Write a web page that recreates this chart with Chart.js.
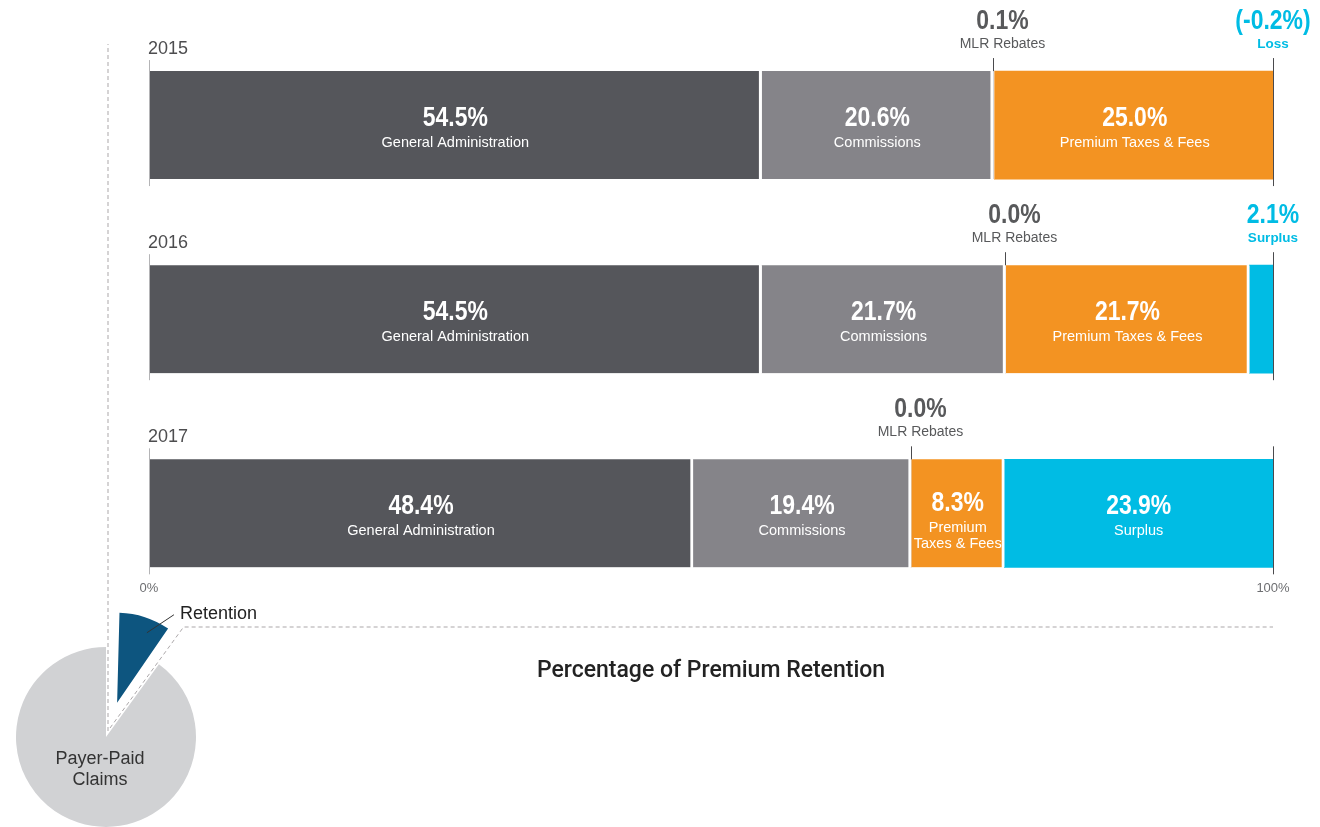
<!DOCTYPE html>
<html>
<head>
<meta charset="utf-8">
<title>Percentage of Premium Retention</title>
<script src="https://cdn.jsdelivr.net/npm/chart.js@4.4.1/dist/chart.umd.min.js"></script>
<style>
  html, body { margin: 0; padding: 0; background: #fff; }
  #wrap { position: relative; width: 1320px; height: 827px; overflow: hidden; }
  #wrap canvas { position: absolute; left: 0; top: 0; }
  #pieChart { pointer-events: none; }
</style>
</head>
<body>
<div id="wrap">
  <canvas id="barChart" width="1320" height="827"></canvas>
  <canvas id="pieChart" width="1320" height="827"></canvas>
</div>
<script>
// retention breakdown by year, % of premium retained
var years = ['2015', '2016', '2017'];
var generalAdmin = [54.5, 54.5, 48.4];
var commissions = [20.6, 21.7, 19.4];
var mlrRebates = [0.1, 0.0, 0.0];
var premiumTaxes = [25.0, 21.7, 8.3];
var netResult = [-0.2, 2.1, 23.9];   // surplus (+) or loss (-)
var axisTicks = [0, 100];

// premium split for the small pie
var pieLabels = ['Retention', 'Payer-Paid Claims'];
var pieValues = [10, 90];

var DARK = '#55565b', MID = '#858489', ORANGE = '#f39322', CYAN = '#00bce4';
var TEXT = '#58595b';
var SANS = "'Liberation Sans', Arial, Helvetica, sans-serif";
var SQUEEZE = 0.82;   // narrows the bold figures

var series = [
  { label: 'General Administration', data: generalAdmin, color: DARK },
  { label: 'Commissions', data: commissions, color: MID },
  { label: 'MLR Rebates', data: mlrRebates, color: '#c9cacc' },
  { label: 'Premium Taxes & Fees', data: premiumTaxes, color: ORANGE },
  { label: 'Surplus', data: netResult.map(function (v) { return v > 0 ? v : 0; }), color: CYAN }
];

function isLastInRow(di, row) {
  for (var k = di + 1; k < series.length; k++) {
    if (series[k].data[row] > 0) return false;
  }
  return true;
}

function wrapWords(ctx, text, maxW) {
  if (ctx.measureText(text).width <= maxW) return [text];
  var words = text.split(' '), lines = [], cur = '';
  words.forEach(function (w) {
    var t = cur ? cur + ' ' + w : w;
    if (cur && ctx.measureText(t).width > maxW) { lines.push(cur); cur = w; }
    else cur = t;
  });
  if (cur) lines.push(cur);
  return lines;
}

function fmt(v) {
  var s = Math.abs(v).toFixed(1) + '%';
  return v < 0 ? '(-' + s + ')' : s;
}

function bigFigure(ctx, text, x, y, color) {
  ctx.save();
  ctx.fillStyle = color;
  ctx.font = 'bold 28px ' + SANS;
  ctx.textAlign = 'center';
  ctx.textBaseline = 'middle';
  ctx.translate(x, y);
  ctx.scale(SQUEEZE, 1);
  ctx.fillText(text, 0, 0);
  ctx.restore();
}

var barDecor = {
  id: 'barDecor',
  afterDatasetsDraw: function (chart) {
    var ctx = chart.ctx, x = chart.scales.x;
    var x0 = x.getPixelForValue(0), x100 = x.getPixelForValue(100);
    ctx.save();
    years.forEach(function (yr, row) {
      var el = chart.getDatasetMeta(0).data[row];
      var top = el.y - el.height / 2, bottom = el.y + el.height / 2;

      ctx.lineWidth = 1;
      ctx.strokeStyle = '#b4b4b6';
      ctx.beginPath(); ctx.moveTo(Math.round(x0) + 0.5, top - 11); ctx.lineTo(Math.round(x0) + 0.5, bottom + 7); ctx.stroke();
      ctx.strokeStyle = '#4a4a4d';
      ctx.beginPath(); ctx.moveTo(Math.round(x100) + 0.5, top - 13); ctx.lineTo(Math.round(x100) + 0.5, bottom + 7); ctx.stroke();

      ctx.fillStyle = '#4d4d4f';
      ctx.font = '18px ' + SANS;
      ctx.textAlign = 'left';
      ctx.textBaseline = 'middle';
      ctx.fillText(yr, x0 - 1, top - 22);

      series.forEach(function (s, di) {
        var v = s.data[row];
        var bar = chart.getDatasetMeta(di).data[row];
        var w = Math.abs(bar.x - bar.base);
        if (v < 5 || w < 30) return;
        var cx = Math.min(bar.base, bar.x) + w / 2;
        ctx.font = '14.5px ' + SANS;
        var lines = wrapWords(ctx, s.label, w - 2);
        var vy = bar.y - 7 - 3 * (lines.length - 1);
        bigFigure(ctx, fmt(v), cx, vy, '#ffffff');
        ctx.fillStyle = '#ffffff';
        ctx.textAlign = 'center';
        ctx.textBaseline = 'middle';
        ctx.font = '14.5px ' + SANS;
        lines.forEach(function (ln, i) { ctx.fillText(ln, cx, vy + 25 + 16 * i); });
      });

      // MLR rebate callout above the bar
      var mlr = chart.getDatasetMeta(2).data[row];
      var mx = Math.round(Math.min(mlr.base, mlr.x)) + 0.5;
      ctx.strokeStyle = '#4a4a4d';
      ctx.beginPath(); ctx.moveTo(mx, top - 13); ctx.lineTo(mx, top); ctx.stroke();
      bigFigure(ctx, fmt(mlrRebates[row]), mx + 9, top - 50, TEXT);
      ctx.fillStyle = TEXT;
      ctx.textAlign = 'center';
      ctx.textBaseline = 'middle';
      ctx.font = '14px ' + SANS;
      ctx.fillText('MLR Rebates', mx + 9, top - 27);

      // small surplus / loss sits above the 100% mark
      var net = netResult[row];
      if (net < 5) {
        bigFigure(ctx, fmt(net), x100, top - 50, CYAN);
        ctx.fillStyle = CYAN;
        ctx.font = 'bold 13.5px ' + SANS;
        ctx.fillText(net < 0 ? 'Loss' : 'Surplus', x100, top - 27);
      }
    });
    ctx.restore();
  }
};

var barChart = new Chart(document.getElementById('barChart'), {
  type: 'bar',
  data: {
    labels: years,
    datasets: series.map(function (s) {
      return {
        label: s.label,
        data: s.data,
        backgroundColor: s.color,
        borderColor: '#ffffff',
        borderSkipped: false,
        borderWidth: function (c) {
          var r = isLastInRow(c.datasetIndex, c.dataIndex) ? 0 : 3;
          return { top: 0, bottom: 0, left: 0, right: r };
        },
        barThickness: 108,
        clip: 0
      };
    })
  },
  options: {
    indexAxis: 'y',
    responsive: false,
    animation: false,
    layout: { padding: { left: 149, right: 47, top: 28, bottom: 142 } },
    plugins: { legend: { display: false }, tooltip: { enabled: false } },
    scales: {
      y: { stacked: true, display: false },
      x: {
        stacked: true,
        min: 0,
        max: 100,
        grid: { display: false, drawTicks: false },
        border: { display: false },
        afterBuildTicks: function (axis) {
          axis.ticks = axisTicks.map(function (v) { return { value: v }; });
        },
        ticks: {
          mirror: true,
          padding: 14,
          color: '#6d6e71',
          font: { family: SANS, size: 13 },
          callback: function (v) { return v + '%'; }
        },
        title: {
          display: true,
          text: 'Percentage of Premium Retention',
          color: '#222222',
          font: { family: "Roboto, 'Liberation Sans', sans-serif", size: 23, weight: '500' },
          padding: { top: 19, bottom: 0 }
        }
      }
    }
  },
  plugins: [barDecor]
});

// pulls the arc back so the exploded slice keeps the same radius
var SLICE_PULL = 36;
var pieDecor = {
  id: 'pieDecor',
  afterDatasetUpdate: function (chart) {
    var arc = chart.getDatasetMeta(0).data[0];
    var fix = 1 - Math.sin(Math.min(Math.PI, arc.circumference));
    arc.outerRadius = arc.outerRadius - SLICE_PULL * fix;
  },
  afterDatasetsDraw: function (chart) {
    var ctx = chart.ctx;
    var arc = chart.getDatasetMeta(0).data[0];
    var cx = arc.x, cy = arc.y;
    var a1 = arc.endAngle, mid = (arc.startAngle + a1) / 2;
    var sx = cx + 2, sy = cy - 6;
    var bx = barChart.scales.x;
    var firstBar = barChart.getDatasetMeta(0).data[0];
    var topY = firstBar.y - firstBar.height / 2 - 27;
    var lineY = 627;
    var t = (lineY - sy) / Math.sin(a1);
    var kx = sx + Math.cos(a1) * t;

    ctx.save();
    ctx.strokeStyle = '#aba7a9';
    ctx.lineWidth = 1;
    ctx.setLineDash([4, 3]);
    ctx.beginPath();
    ctx.moveTo(sx, sy);
    ctx.lineTo(sx, topY);
    ctx.stroke();
    ctx.beginPath();
    ctx.moveTo(sx + 2, sy - 3);
    ctx.lineTo(kx, lineY);
    ctx.lineTo(bx.getPixelForValue(100), lineY);
    ctx.stroke();
    ctx.setLineDash([]);

    // Retention callout
    var la = mid + 0.06;
    var lx = cx + Math.cos(la) * 112, ly = cy + Math.sin(la) * 112;
    ctx.strokeStyle = '#333333';
    ctx.beginPath();
    ctx.moveTo(lx, ly);
    ctx.lineTo(lx + 27, ly - 18);
    ctx.stroke();
    ctx.fillStyle = '#222222';
    ctx.font = '18px ' + SANS;
    ctx.textAlign = 'left';
    ctx.textBaseline = 'middle';
    ctx.fillText(pieLabels[0], lx + 33, ly - 19);

    ctx.fillStyle = '#333333';
    ctx.font = '18px ' + SANS;
    ctx.textAlign = 'center';
    ctx.fillText('Payer-Paid', cx - 6, cy + 22);
    ctx.fillText('Claims', cx - 6, cy + 43);
    ctx.restore();
  }
};

new Chart(document.getElementById('pieChart'), {
  type: 'pie',
  data: {
    labels: pieLabels,
    datasets: [{
      data: pieValues,
      backgroundColor: ['#0d557f', '#d1d2d4'],
      borderWidth: 0,
      offset: [SLICE_PULL * 4, 0]
    }]
  },
  options: {
    responsive: false,
    animation: false,
    radius: 90,
    layout: { padding: { left: 0, right: 1108, top: 647, bottom: 0 } },
    plugins: { legend: { display: false }, tooltip: { enabled: false } }
  },
  plugins: [pieDecor]
});
</script>
</body>
</html>
